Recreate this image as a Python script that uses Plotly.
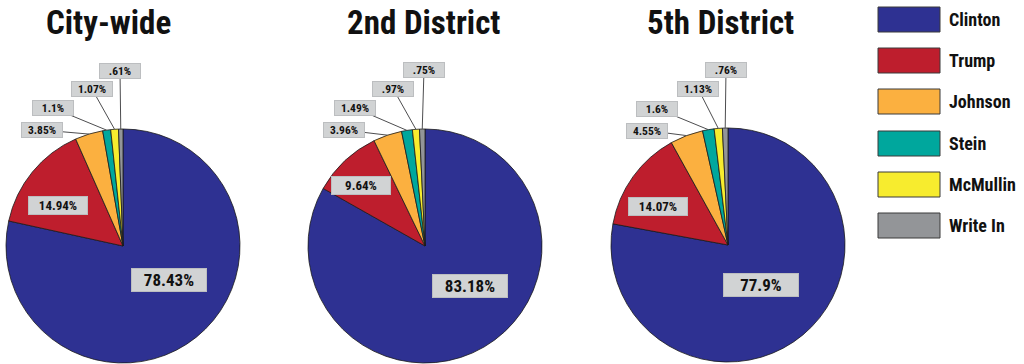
import math
import plotly.graph_objects as go

# ---------------- data ----------------
candidates = ["Clinton", "Trump", "Johnson", "Stein", "McMullin", "Write In"]
colors = ["#2E3192", "#BE1E2D", "#FBB040", "#00A79D", "#F7EC2E", "#939598"]
titles = ["City-wide", "2nd District", "5th District"]
city_wide = [78.43, 14.94, 3.85, 1.1, 1.07, 0.61]
district_2 = [83.18, 9.64, 3.96, 1.49, 0.97, 0.75]
district_5 = [77.9, 14.07, 4.55, 1.6, 1.13, 0.76]
labels_city = ["78.43%", "14.94%", "3.85%", "1.1%", "1.07%", ".61%"]
labels_d2 = ["83.18%", "9.64%", "3.96%", "1.49%", ".97%", ".75%"]
labels_d5 = ["77.9%", "14.07%", "4.55%", "1.6%", "1.13%", ".76%"]

series = [city_wide, district_2, district_5]
series_labels = [labels_city, labels_d2, labels_d5]

# ---------------- layout constants (pixels) ----------------
W, H = 1024, 364
R = 117
centers = [(123, 246), (425, 246), (728, 245)]
title_x = [108, 423, 720]
title_y = 22
# label box centres for each slice, per pie
label_pos = [
    [(169, 280), (58, 205), (42, 130), (53, 108), (92, 89), (120, 71)],
    [(470, 286), (361, 185), (344, 130), (355, 108), (393, 88.5), (424, 69.5)],
    [(761, 285), (658, 206), (647, 130.5), (657, 108.5), (698, 88.5), (726, 69.5)],
]
FONT = "Roboto Condensed, DejaVu Sans Condensed, Roboto, sans-serif"


def px(x):
    return x / W


def py(y):
    return 1 - y / H


fig = go.Figure()
annotations = []
shapes = []

for k, (vals, labs) in enumerate(zip(series, series_labels)):
    cx, cy = centers[k]
    fig.add_trace(go.Pie(
        labels=candidates,
        values=vals,
        sort=False,
        direction="clockwise",
        rotation=0,
        textinfo="none",
        hoverinfo="label+percent",
        marker=dict(colors=colors, line=dict(color="#1a1a1a", width=0.8)),
        domain=dict(x=[px(cx - R), px(cx + R)], y=[py(cy + R), py(cy - R)]),
        showlegend=False,
    ))
    annotations.append(dict(
        x=px(title_x[k]), y=py(title_y), xref="paper", yref="paper",
        text="<b>%s</b>" % titles[k], showarrow=False,
        font=dict(family=FONT, size=33, color="#111111"),
        xanchor="center", yanchor="middle",
    ))
    total = sum(vals)
    cum = 0.0
    for i, (v, lab) in enumerate(zip(vals, labs)):
        mid = (cum + v / 2) / total
        cum += v
        lx, ly = label_pos[k][i]
        if i == 0:
            size, w, h = 17, 72, 20
        elif i == 1:
            size, w, h = 13, 56, 15
        else:
            size, w, h = 11.5, 38, 12
            theta = 2 * math.pi * mid
            ex = cx + R * math.sin(theta)
            ey = cy - R * math.cos(theta)
            shapes.append(dict(
                type="line", xref="paper", yref="paper",
                x0=px(lx), y0=py(ly), x1=px(ex), y1=py(ey),
                line=dict(color="#4d4d4f", width=1),
            ))
        annotations.append(dict(
            x=px(lx), y=py(ly), xref="paper", yref="paper",
            text="<b>%s</b>" % lab, showarrow=False,
            font=dict(family=FONT, size=size, color="#111111"),
            bgcolor="#D1D3D4", bordercolor="#BCBEC0", borderwidth=1,
            borderpad=1, width=w, height=h,
            xanchor="center", yanchor="middle", align="center",
        ))

# custom legend
leg_x0, leg_x1 = 878, 940
leg_tops = [7, 48, 89, 131, 172, 213]
for name, col, top in zip(candidates, colors, leg_tops):
    shapes.append(dict(
        type="rect", xref="paper", yref="paper",
        x0=px(leg_x0), x1=px(leg_x1), y0=py(top + 25), y1=py(top),
        fillcolor=col, line=dict(color="#3a3a3a", width=1),
    ))
    annotations.append(dict(
        x=px(947), y=py(top + 12.5), xref="paper", yref="paper",
        text="<b>%s</b>" % name, showarrow=False,
        font=dict(family=FONT, size=18, color="#111111"),
        xanchor="left", yanchor="middle",
    ))

fig.update_layout(
    width=W, height=H,
    margin=dict(l=0, r=0, t=0, b=0),
    paper_bgcolor="white", plot_bgcolor="white",
    annotations=annotations, shapes=shapes,
    showlegend=False,
)

fig.write_html(
    "out.html",
    config={"displayModeBar": False},
    post_script="document.body.style.margin='0';document.body.style.overflow='hidden';",
)
